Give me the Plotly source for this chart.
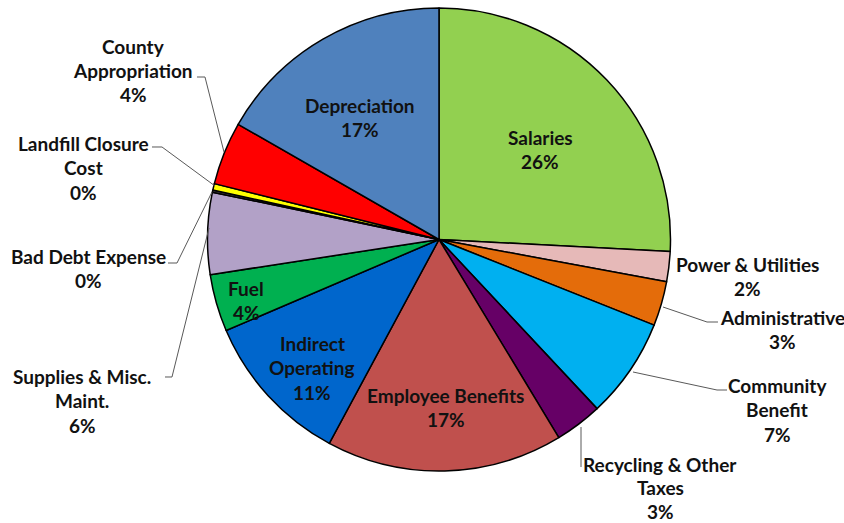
import plotly.graph_objects as go

W, H = 844, 523

# ---- data (percent of total) ----
categories = ["Salaries", "Power & Utilities", "Administrative", "Community Benefit",
              "Recycling & Other Taxes", "Employee Benefits", "Indirect Operating", "Fuel",
              "Supplies & Misc. Maint.", "Bad Debt Expense", "Landfill Closure Cost",
              "County Appropriation", "Depreciation"]
values = [25.8, 2.1, 3.1, 7.0, 3.3, 16.5, 10.7, 4.0, 5.7, 0.15, 0.45, 4.4, 16.7]
colors = ["#92D050", "#E6B9B8", "#E46C0A", "#00B0F0", "#660066", "#C0504D", "#0066CC",
          "#00B050", "#B2A1C7", "#404040", "#FFFF00", "#FF0000", "#4F81BD"]
# label line breaks as in the chart
label_lines = [["Salaries"], ["Power & Utilities"], ["Administrative"], ["Community", "Benefit"],
               ["Recycling & Other", "Taxes"], ["Employee Benefits"], ["Indirect", "Operating"],
               ["Fuel"], ["Supplies & Misc.", "Maint."], ["Bad Debt Expense"],
               ["Landfill Closure", "Cost"], ["County", "Appropriation"], ["Depreciation"]]

total = sum(values)
pct_text = [f"{round(v / total * 100):.0f}%" for v in values]

# ---- layout helpers (pixel -> paper) ----
def px(x):
    return x / W

def py(y):
    return 1 - y / H

cx, cy, r = 439, 239.5, 231.5

fig = go.Figure(go.Pie(
    labels=categories, values=values, sort=False, direction="clockwise", rotation=0,
    marker=dict(colors=colors, line=dict(color="#000000", width=1.5)),
    textinfo="none", hoverinfo="label+percent", showlegend=False,
    domain=dict(x=[px(cx - r), px(cx + r)], y=[py(cy + r), py(cy - r)]),
))

# label block anchor: (center x, first line center y, line gap) in pixels
label_pos = [(540, 137, 24.5), (747, 264, 24.5), (782, 317, 24.5), (777, 385, 24.5),
             (660, 464, 23.5), (446, 395, 24.5), (312, 343, 24.5), (246, 288, 24.5),
             (82, 376, 24.5), (88, 256, 24.5), (83, 143, 24.5), (133, 46, 24.5),
             (360, 105, 24.5)]

annotations = []
for lines, pct, (lx, ly, gap) in zip(label_lines, pct_text, label_pos):
    for i, t in enumerate(lines + [pct]):
        annotations.append(dict(
            x=px(lx), y=py(ly + i * gap), xref="paper", yref="paper",
            text=f"<b>{t}</b>", showarrow=False, xanchor="center", yanchor="middle",
            font=dict(family="Lato, Carlito, sans-serif", size=19, color="#111111"),
        ))

# leader lines (pixel polylines)
leaders = [
    [(663, 307), (707, 322), (718, 322)],            # Administrative
    [(633, 372), (717, 390), (727, 390)],            # Community Benefit
    [(581, 427), (581, 467)],                        # Recycling
    [(165, 377), (172, 377), (209, 228)],            # Supplies
    [(168, 263), (177, 263), (212, 192)],            # Bad Debt
    [(152, 147), (162, 147), (215, 186)],            # Landfill
    [(197, 77), (205, 77), (224, 152)],              # County
]
shapes = []
for pts in leaders:
    path = "M " + " L ".join(f"{px(x):.5f},{py(y):.5f}" for x, y in pts)
    shapes.append(dict(type="path", path=path, xref="paper", yref="paper",
                       line=dict(color="#595959", width=1)))

fig.update_layout(
    width=W, height=H, margin=dict(l=0, r=0, t=0, b=0),
    paper_bgcolor="white", plot_bgcolor="white",
    annotations=annotations, shapes=shapes,
)

fig.write_html("out.html", config={"displayModeBar": False},
               post_script="document.body.style.margin='0';document.body.style.overflow='hidden';")
